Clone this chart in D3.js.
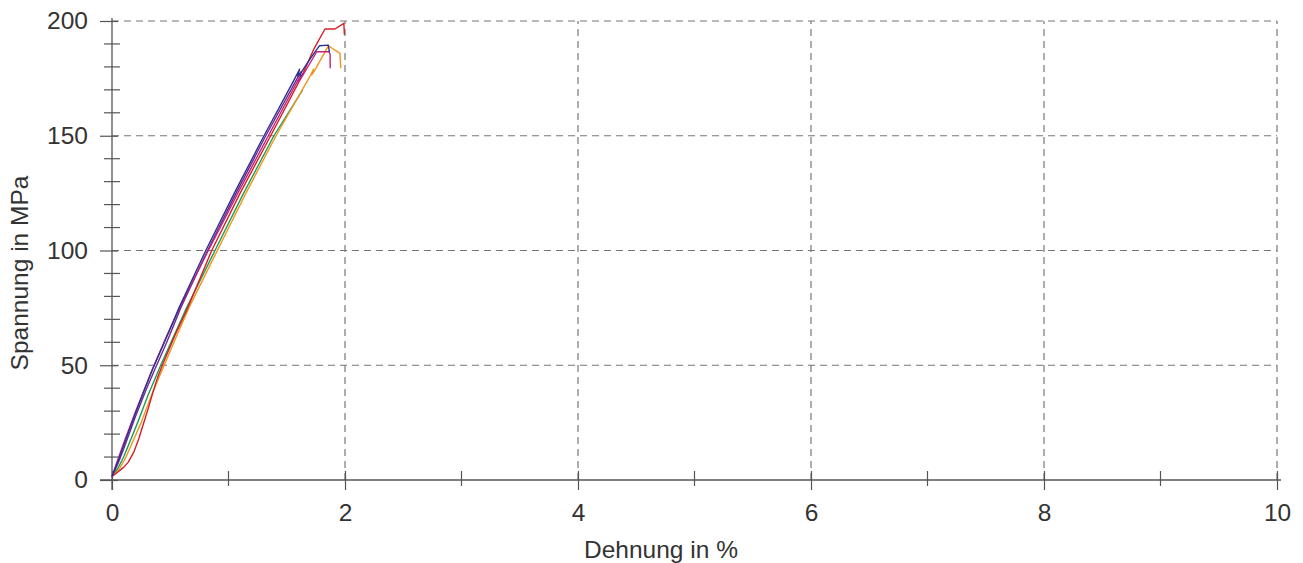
<!DOCTYPE html>
<html><head><meta charset="utf-8">
<script src="https://cdn.jsdelivr.net/npm/d3@7"></script>
<style>body{margin:0;background:#fff}svg{display:block}text{font-family:"Liberation Sans",Arial,sans-serif;fill:#333}</style>
</head><body><svg id="c" width="1303" height="563"></svg>
<script>
// Data (strain %, stress MPa)
const red = [[0,1.5],[0.05,3.5],[0.1,5.5],[0.14,7.8],[0.19,12.5],[0.23,18],[0.27,24.5],[0.31,31],[0.35,38],[0.39,44.5],[0.44,51],[0.54,63],[0.65,75],[0.856,100],[1.10,125],[1.362,150],[1.62,175],[1.73,187.5],[1.828,196.5],[1.914,196.5],[1.99,199],[1.995,194]];
const navy = [[0,1.5],[0.05,8],[0.1,15],[0.2,29],[0.28,39.5],[0.35,48.5],[0.45,60],[0.575,75],[0.805,100],[1.05,125],[1.305,150],[1.57,175],[1.61,179],[1.595,176],[1.63,178],[1.70,183.5],[1.78,189.2],[1.857,189.5],[1.866,186.5]];
const purple = [[0,1.5],[0.05,7],[0.1,13.5],[0.2,27.5],[0.29,39],[0.37,48.5],[0.47,60],[0.59,75],[0.82,100],[1.065,125],[1.32,150],[1.59,175],[1.625,178],[1.615,175.5],[1.645,177]];
const magenta = [[0,1.5],[0.03,6],[0.1,16],[0.2,29.5],[0.27,38.5],[0.345,48],[0.45,60.5],[0.58,75],[0.827,100],[1.08,125],[1.342,150],[1.61,175.5],[1.60,173.5],[1.64,176.5],[1.757,186.6],[1.862,186.6],[1.872,185.5],[1.873,179.4]];
const green = [[0,1.5],[0.05,5],[0.1,10],[0.22,25],[0.31,37],[0.41,49],[0.52,61.5],[0.64,75],[0.884,100],[1.13,125],[1.39,150],[1.637,170]];
const orange = [[0,1.5],[0.06,4.5],[0.12,10],[0.25,25],[0.34,37],[0.435,48.5],[0.54,61],[0.66,75],[0.904,100],[1.15,125],[1.408,150],[1.70,176],[1.73,179],[1.715,176.5],[1.74,178.5],[1.857,189.2],[1.957,185.9],[1.963,179.4]];
const seriesColors = {red:"#d42026", navy:"#2e3192", purple:"#662d91", magenta:"#c1237f", green:"#1b9e5a", orange:"#f0961e"};
const xMajorTicks = [0,2,4,6,8,10];
const xMinorTicks = [1,3,5,7,9];
const yMajorTicks = [0,50,100,150,200];
const yMinorTicks = [10,20,30,40,60,70,80,90,110,120,130,140,160,170,180,190];
const xLabel = "Dehnung in %";
const yLabel = "Spannung in MPa";

const svg = d3.select("#c");
const x = d3.scaleLinear().domain([0,10]).range([112,1277]);
const y = d3.scaleLinear().domain([0,200]).range([480,21]);
const axisCol = "#555", gridCol = "#777";

// grid
const g = svg.append("g");
g.selectAll(".hg").data(yMajorTicks.filter(d=>d>0)).join("line")
  .attr("x1",x(0)).attr("x2",x(10)).attr("y1",d=>y(d)).attr("y2",d=>y(d))
  .attr("stroke",gridCol).attr("stroke-width",1.2).attr("stroke-dasharray","7,5");
g.selectAll(".vg").data(xMajorTicks.filter(d=>d>0)).join("line")
  .attr("y1",y(0)).attr("y2",y(200)).attr("x1",d=>x(d)).attr("x2",d=>x(d))
  .attr("stroke",gridCol).attr("stroke-width",1.2).attr("stroke-dasharray","7,5");

// axes
const xa = svg.append("g").attr("transform",`translate(0,${y(0)})`)
  .call(d3.axisBottom(x).tickValues(xMajorTicks).tickSize(10).tickPadding(14).tickFormat(d3.format("d")));
xa.select(".domain").attr("d",`M${x(0)-12},0H${x(10)+4}`).attr("stroke",axisCol).attr("stroke-width",1.3);
xa.selectAll(".tick line").attr("y1",-9).attr("y2",10).attr("stroke",axisCol).attr("stroke-width",1.2);
xa.selectAll(".tick text").attr("font-size","24.5px").attr("fill","#333");
xa.selectAll(".mt").data(xMinorTicks).join("line").attr("x1",d=>x(d)).attr("x2",d=>x(d))
  .attr("y1",-9).attr("y2",6).attr("stroke",axisCol).attr("stroke-width",1.2);

const ya = svg.append("g").attr("transform",`translate(${x(0)},0)`)
  .call(d3.axisLeft(y).tickValues(yMajorTicks).tickSize(12).tickPadding(12).tickFormat(d3.format("d")));
ya.select(".domain").attr("d",`M0,${y(0)+10}V${y(200)-3}`).attr("stroke",axisCol).attr("stroke-width",1.3);
ya.selectAll(".tick line").attr("x1",-12).attr("x2",6).attr("stroke",axisCol).attr("stroke-width",1.2);
ya.selectAll(".tick text").attr("font-size","24.5px").attr("fill","#333");
ya.selectAll(".mt").data(yMinorTicks).join("line").attr("y1",d=>y(d)).attr("y2",d=>y(d))
  .attr("x1",-8).attr("x2",8).attr("stroke",axisCol).attr("stroke-width",1.2);

// labels
svg.append("text").attr("x",661).attr("y",558).attr("text-anchor","middle").attr("font-size","24.5px").text(xLabel);
svg.append("text").attr("transform","translate(28,273) rotate(-90)").attr("text-anchor","middle").attr("font-size","24.5px").text(yLabel);

// curves
const line = d3.line().x(d=>x(d[0])).y(d=>y(d[1]));
const series = [["green",green],["orange",orange],["red",red],["purple",purple],["magenta",magenta],["navy",navy]];
svg.append("g").selectAll("path").data(series).join("path")
  .attr("d",d=>line(d[1])).attr("fill","none").attr("stroke",d=>seriesColors[d[0]])
  .attr("stroke-width",1.4).attr("stroke-linejoin","round");
</script></body></html>
